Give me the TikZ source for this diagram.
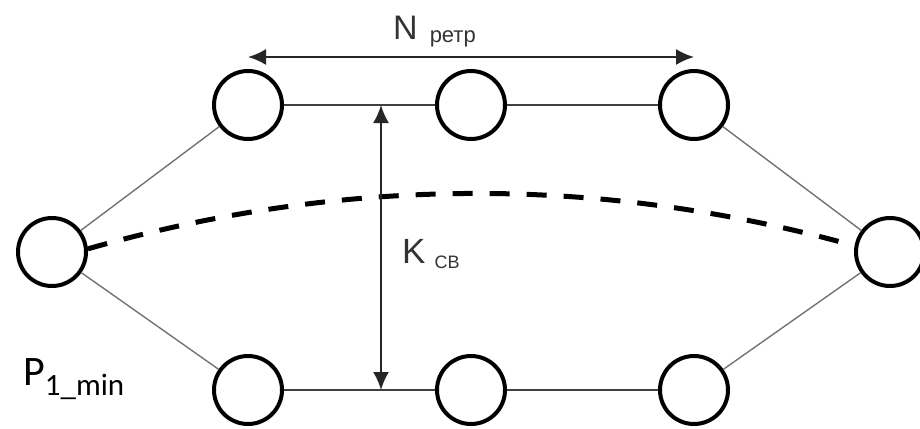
\documentclass[tikz,border=0pt]{standalone}
\usepackage{fontspec}
\setmainfont{Liberation Sans}
\newfontfamily\calfont{Carlito}
\usetikzlibrary{arrows.meta}
\tikzset{>={Latex[length=18pt,width=16pt]}}

\begin{document}
\begin{tikzpicture}
                [x=1pt,y=-1pt,
                 station/.style={circle,draw,line width=4pt,minimum size=68pt,inner sep=0pt},
                 link/.style={draw=black!55,line width=1.4pt},
                 rowlink/.style={draw=black!75,line width=2pt},
                 dimtext/.style={inner sep=0pt,anchor=base west,text=black!80}]
                \useasboundingbox (0,0) rectangle (920,428);

                \node[station] (s0) at (52,252) {};
                \node[station] (t1) at (248,105) {};
                \node[station] (t2) at (471,105) {};
                \node[station] (t3) at (694,105) {};
                \node[station] (b1) at (248,390) {};
                \node[station] (b2) at (471,390) {};
                \node[station] (b3) at (694,390) {};
                \node[station] (s4) at (890,252) {};

                \draw[link] (s0) -- (t1);
                \draw[link] (s0) -- (b1);
                \draw[link] (t3) -- (s4);
                \draw[link] (b3) -- (s4);
                \draw[rowlink] (t1) -- (t2);
                \draw[rowlink] (t2) -- (t3);
                \draw[rowlink] (b1) -- (b2);
                \draw[rowlink] (b2) -- (b3);

                % boundary between the two rows
                \draw[line width=5pt,dash pattern=on 20pt off 17pt]
                    (s0.5) .. controls (343,176) and (600,175) .. (s4.170);

                \coordinate (nl) at (248,57);
                \coordinate (nr) at (694,57);
                \coordinate (kt) at (381,105);
                \coordinate (kb) at (381,390);
                \draw[<->,draw=black!85,line width=2pt] (nl) -- (nr);
                \draw[<->,draw=black!85,line width=2pt] (kt) -- (kb);

                \node[dimtext] (nlab) at (393,40)
                    {\fontsize{34}{40}\selectfont N\hspace{12pt}\raisebox{-2pt}{\fontsize{22}{26}\selectfont ретр}};
                \node[dimtext] (klab) at (402,263)
                    {\fontsize{35}{40}\selectfont K\hspace{9pt}\raisebox{-5pt}{\fontsize{18}{22}\selectfont СВ}};
                \node[dimtext,text=black] (plab) at (23,385)
                    {\calfont\fontsize{42}{50}\selectfont P\raisebox{-10pt}{\fontsize{31}{36}\selectfont 1\_min}};
            \end{tikzpicture}
\end{document}
